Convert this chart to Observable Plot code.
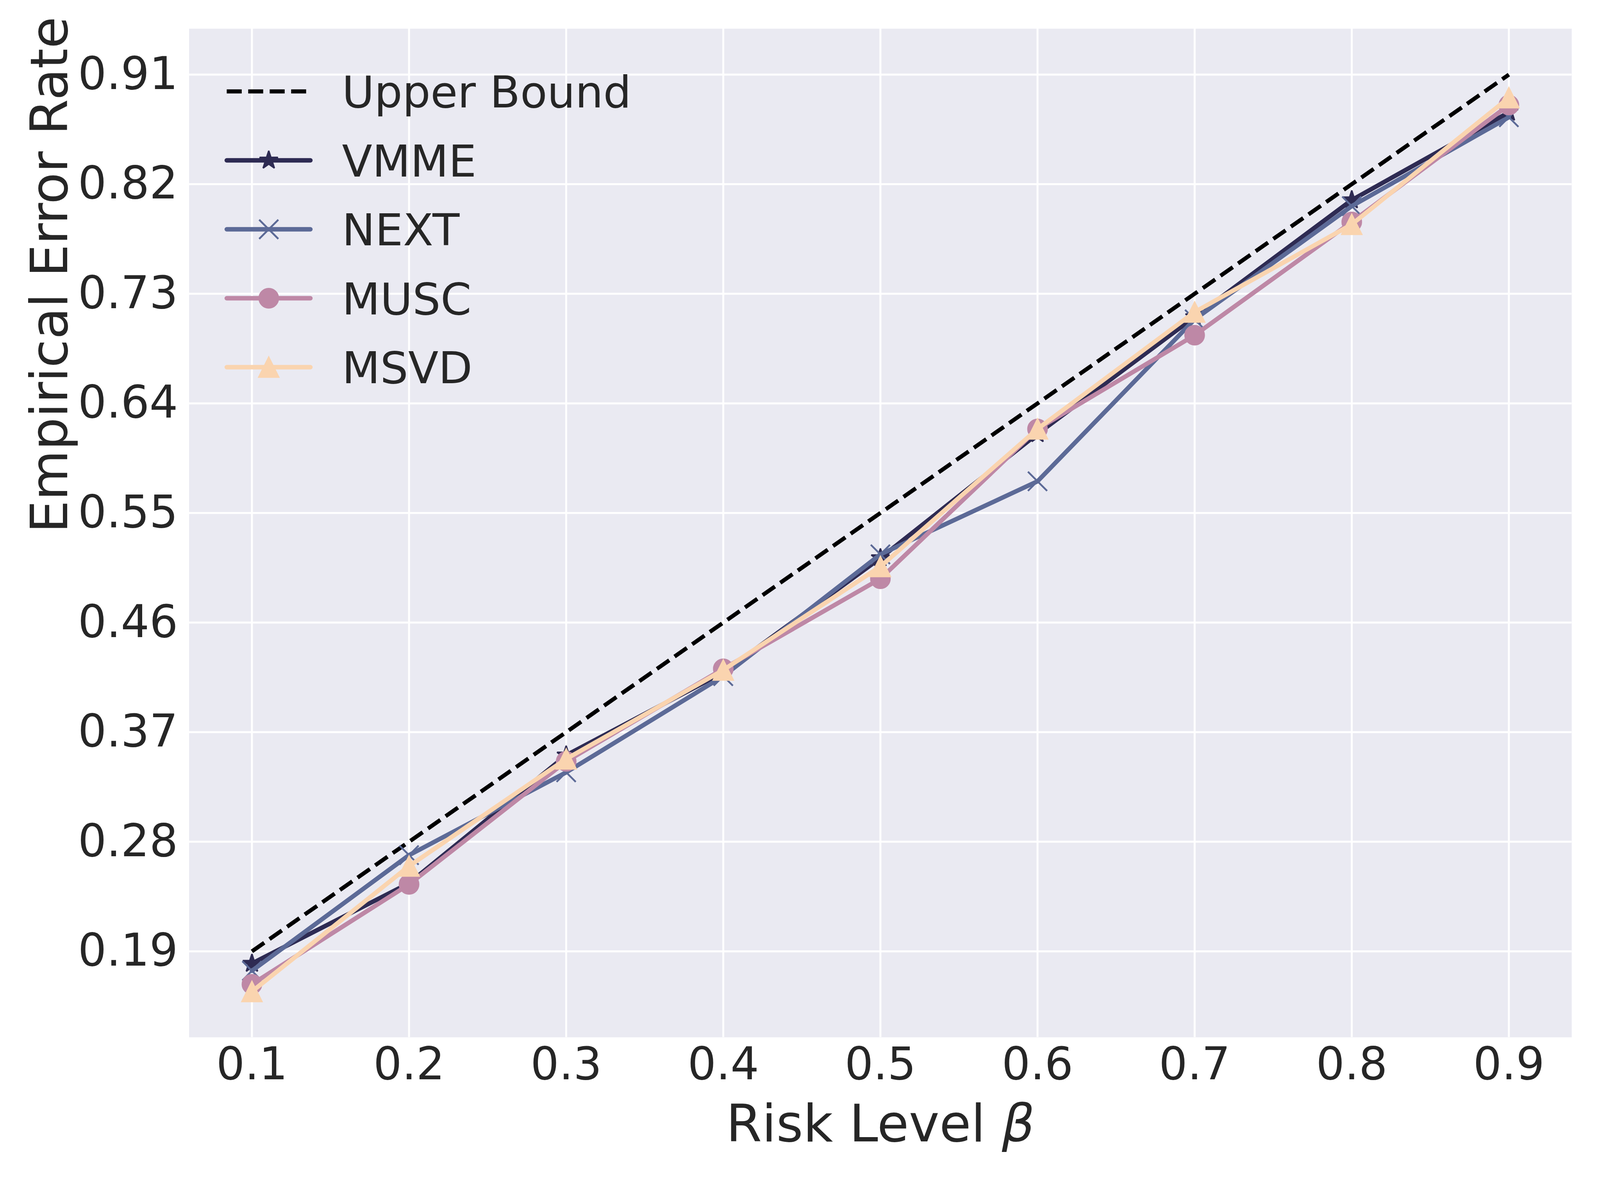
<!DOCTYPE html>
<html>
<head>
<meta charset="utf-8">
<script src="https://cdn.jsdelivr.net/npm/d3@7"></script>
<script src="https://cdn.jsdelivr.net/npm/@observablehq/plot@0.6"></script>
<style>
html, body { margin: 0; padding: 0; background: #ffffff; overflow: hidden; }
#chart { position: relative; width: 100vw; height: 100vh; }
#chart svg { display: block; width: 100vw !important; height: 100vh !important; max-width: none !important; }
</style>
</head>
<body>
<div id="chart"></div>
<script>
// ---- data ----
const beta = [0.1, 0.2, 0.3, 0.4, 0.5, 0.6, 0.7, 0.8, 0.9];
const upperBound = [0.19, 0.28, 0.37, 0.46, 0.55, 0.64, 0.73, 0.82, 0.91];
const vmme = [0.180, 0.246, 0.351, 0.419, 0.513, 0.615, 0.711, 0.807, 0.879];
const next = [0.174, 0.269, 0.337, 0.416, 0.516, 0.576, 0.709, 0.802, 0.875];
const musc = [0.163, 0.245, 0.346, 0.422, 0.496, 0.619, 0.696, 0.789, 0.885];
const msvd = [0.157, 0.260, 0.348, 0.421, 0.506, 0.619, 0.715, 0.787, 0.891];
const seriesNames = ["VMME", "NEXT", "MUSC", "MSVD"];
const upperName = "Upper Bound";
const xTicks = [0.1, 0.2, 0.3, 0.4, 0.5, 0.6, 0.7, 0.8, 0.9];
const yTicks = [0.19, 0.28, 0.37, 0.46, 0.55, 0.64, 0.73, 0.82, 0.91];
const xLabel = "Risk Level ";
const xLabelSymbol = "β";
const yLabel = "Empirical Error Rate";

// ---- viewport-proportional layout (designed for 4608 x 3072) ----
const VW = document.documentElement.clientWidth || window.innerWidth || 4608;
const VH = document.documentElement.clientHeight || window.innerHeight || 3072;
const sx = VW / 4608, sy = VH / 3072, s = Math.sqrt(sx * sy);

// ---- matplotlib-like marker symbols ----
const rad = (size) => Math.sqrt(size / Math.PI);
const symStar = {draw(ctx, size) {
  const R = rad(size), r = R * 0.381966;
  for (let i = 0; i < 10; i++) {
    const a = -Math.PI / 2 + i * Math.PI / 5, rr = i % 2 ? r : R;
    const x = rr * Math.cos(a), y = rr * Math.sin(a);
    if (i) ctx.lineTo(x, y); else ctx.moveTo(x, y);
  }
  ctx.closePath();
}};
const symTimes = {draw(ctx, size) {
  const R = rad(size);
  ctx.moveTo(-R, -R); ctx.lineTo(R, R);
  ctx.moveTo(-R, R); ctx.lineTo(R, -R);
}};
const symCircle = {draw(ctx, size) {
  const R = rad(size);
  ctx.moveTo(R, 0); ctx.arc(0, 0, R, 0, 2 * Math.PI); ctx.closePath();
}};
const symTriangle = {draw(ctx, size) {
  const R = rad(size);
  ctx.moveTo(0, -R); ctx.lineTo(R, R); ctx.lineTo(-R, R); ctx.closePath();
}};

// ---- styles ----
const seriesValues = [vmme, next, musc, msvd];
const seriesStyle = [
  {color: "#2e2b53", symbol: symStar, r: 26 * s, filled: true, join: "bevel"},
  {color: "#5c6a97", symbol: symTimes, r: 26 * s, filled: false, join: "miter"},
  {color: "#be88a6", symbol: symCircle, r: 26 * s, filled: true, join: "round"},
  {color: "#fad4af", symbol: symTriangle, r: 27 * s, filled: true, join: "miter"}
];
const textColor = "#262626";
const lineW = 12 * s;
const dashW = 11 * s;
const dashArr = `${3.7 * dashW},${1.6 * dashW}`;
const filledEdge = 4 * s, crossEdge = 5 * s;
const tickFont = 122 * s, labelFont = 140 * s, legendFont = 120 * s;

const upperRows = beta.map((b, i) => ({beta: b, value: upperBound[i]}));
const seriesRows = seriesNames.map((name, k) =>
  beta.map((b, i) => ({beta: b, value: seriesValues[k][i], series: name})));

const seriesMarks = seriesNames.flatMap((name, k) => {
  const st = seriesStyle[k];
  return [
    Plot.line(seriesRows[k], {x: "beta", y: "value", stroke: st.color, strokeWidth: lineW,
      strokeLinecap: "round", strokeLinejoin: "round"}),
    Plot.dot(seriesRows[k], {x: "beta", y: "value", symbol: st.symbol, r: st.r,
      fill: st.filled ? st.color : "none", stroke: st.color,
      strokeWidth: st.filled ? filledEdge : crossEdge, strokeLinejoin: st.join})
  ];
});

const mL = 544 * sx, mR = 82 * sx, mT = 73 * sy, mB = 417 * sy;

const plot = Plot.plot({
  width: VW, height: VH,
  marginLeft: mL, marginRight: mR, marginTop: mT, marginBottom: mB,
  style: {fontFamily: "'DejaVu Sans', sans-serif", background: "#ffffff", color: textColor, overflow: "visible"},
  x: {domain: [0.06, 0.94], ticks: xTicks, tickFormat: d3.format(".1f")},
  y: {domain: [0.1194, 0.9477], ticks: yTicks, tickFormat: d3.format(".2f")},
  marks: [
    Plot.frame({fill: "#EAEAF2", stroke: "none"}),
    Plot.gridX(xTicks, {stroke: "#ffffff", strokeOpacity: 1, strokeWidth: 5.3 * s}),
    Plot.gridY(yTicks, {stroke: "#ffffff", strokeOpacity: 1, strokeWidth: 5.3 * s}),
    Plot.axisX(xTicks, {tickSize: 0, tickPadding: 26 * sy, label: null, fontSize: tickFont, fill: textColor, tickFormat: d3.format(".1f")}),
    Plot.axisY(yTicks, {tickSize: 0, tickPadding: 32 * sx, label: null, fontSize: tickFont, fill: textColor, tickFormat: d3.format(".2f")}),
    Plot.line(upperRows, {x: "beta", y: "value", stroke: "#000000", strokeWidth: dashW,
      strokeDasharray: dashArr, strokeLinecap: "butt"}),
    ...seriesMarks,
    Plot.text([0], {frameAnchor: "bottom", text: () => xLabel + xLabelSymbol, dy: 173 * sy,
      lineAnchor: "top", fontSize: labelFont, fill: textColor}),
    Plot.text([0], {frameAnchor: "left", text: () => yLabel, rotate: -90, dx: -457 * sx,
      lineAnchor: "top", fontSize: labelFont, fill: textColor})
  ]
});

document.getElementById("chart").appendChild(plot);

// italic beta in x label
d3.select(plot).selectAll("text").each(function() {
  if (this.textContent === xLabel + xLabelSymbol) {
    const t = d3.select(this);
    t.text(null);
    t.append("tspan").text(xLabel);
    t.append("tspan").attr("font-style", "italic").text(xLabelSymbol);
  }
});

// ---- legend (inside plot, top-left, no frame) ----
const legend = d3.select(plot).append("g").attr("class", "legend")
  .attr("font-family", "'DejaVu Sans', sans-serif").attr("font-size", legendFont)
  .attr("fill", textColor).attr("text-anchor", "start");
const entries = [{name: upperName, color: "#000000", dashed: true}]
  .concat(seriesNames.map((n, k) => ({name: n, ...seriesStyle[k]})));
const rowY0 = 234 * sy, rowStep = 176.5 * sy;
const hx1 = 653 * sx, hx2 = 894 * sx, hxm = 774 * sx, tx = 985 * sx;
entries.forEach((e, i) => {
  const y = rowY0 + i * rowStep;
  const g = legend.append("g");
  g.append("line").attr("x1", hx1).attr("x2", hx2).attr("y1", y).attr("y2", y)
    .attr("stroke", e.color)
    .attr("stroke-width", e.dashed ? dashW : lineW)
    .attr("stroke-linecap", e.dashed ? "butt" : "round")
    .attr("stroke-dasharray", e.dashed ? dashArr : null);
  if (!e.dashed) {
    g.append("path").attr("transform", `translate(${hxm},${y})`)
      .attr("d", d3.symbol(e.symbol, e.r * e.r * Math.PI)())
      .attr("fill", e.filled ? e.color : "none")
      .attr("stroke", e.color)
      .attr("stroke-width", e.filled ? filledEdge : crossEdge)
      .attr("stroke-linejoin", e.join);
  }
  g.append("text").attr("x", tx).attr("y", y + 44 * s).attr("text-anchor", "start").text(e.name);
});
</script>
</body>
</html>
